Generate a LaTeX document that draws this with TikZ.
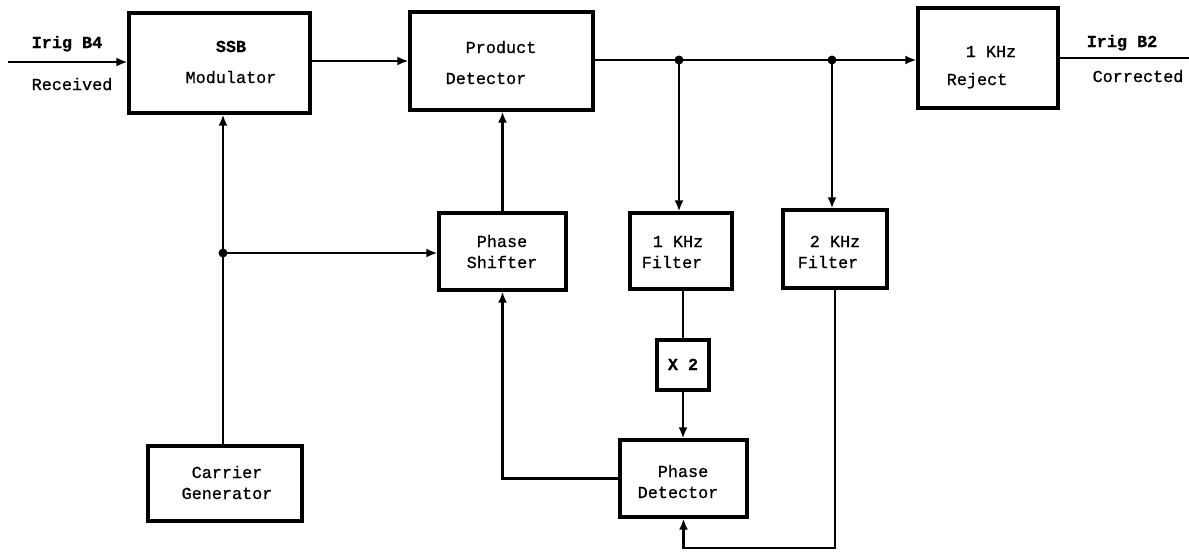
\documentclass[tikz,border=0pt]{standalone}
\usepackage{fontspec}
\setmonofont{Liberation Mono}
\newfontfamily\twr[FakeBold=0.8]{Liberation Mono}
\newfontfamily\twb[FakeBold=0.6]{Liberation Mono Bold}
\usetikzlibrary{arrows.meta}
\tikzset{
  box/.style={draw, line width=3.2pt, inner sep=0pt, fill=none},
  conn/.style={line width=2.8pt},
  arr/.style={conn, -{Latex[length=11pt,width=9pt]}},
  txt/.style={anchor=base, inner sep=0pt, font=\twr\fontsize{16.8}{20}\selectfont},
  btxt/.style={txt, font=\twb\fontsize{16.8}{20}\selectfont},
  dot/.style={circle, fill, inner sep=0pt, minimum size=9pt}
}
\begin{document}
\begin{tikzpicture}[x=1pt,y=-1pt]
\useasboundingbox (0,0) rectangle (1189,552);
% boxes
\node[box, minimum width=181pt, minimum height=100pt] (ssb) at (219.5,63) {};
\node[box, minimum width=183pt, minimum height=98pt] (prod) at (501.5,61) {};
\node[box, minimum width=140pt, minimum height=100pt] (rej) at (988,58) {};
\node[box, minimum width=127pt, minimum height=77pt] (shift) at (502.5,251.5) {};
\node[box, minimum width=102pt, minimum height=76pt] (f1) at (681,251) {};
\node[box, minimum width=104pt, minimum height=78pt] (f2) at (835,249) {};
\node[box, minimum width=52pt, minimum height=50pt] (x2) at (683,365) {};
\node[box, minimum width=127pt, minimum height=77pt] (pd) at (683.5,478.5) {};
\node[box, minimum width=154pt, minimum height=75pt] (car) at (225,483.5) {};
% coordinates
\coordinate (in) at (8,62);
\coordinate (out) at (1189,58);
\coordinate (j1) at (679,60);
\coordinate (j2) at (832,60);
\coordinate (j3) at (223,253);
\coordinate (fb) at (835,548);
% connectors
\draw[arr] (in) -- (in -| ssb.west);
\draw[arr] (ssb.east |- 0,61) -- (prod.west |- 0,61);
\draw[arr] (prod.east |- j1) -- (rej.west |- j1);
\draw[conn] (rej.east |- out) -- (out);
\draw[arr] (j1) -- (j1 |- f1.north);
\draw[arr] (j2) -- (j2 |- f2.north);
\draw[arr] (j3 |- car.north) -- (j3 |- ssb.south);
\draw[arr] (j3) -- (j3 -| shift.west);
\draw[arr] (shift.north) -- (shift.north |- prod.south);
\draw[conn] (x2.north |- f1.south) -- (x2.north);
\draw[arr] (x2.south) -- (x2.south |- pd.north);
\draw[arr] (pd.west) -| (shift.south);
\draw[arr] (f2.south -| fb) -- (fb) -| (pd.south);
\node[dot] (d1) at (j1) {};
\node[dot] (d2) at (j2) {};
\node[dot] (d3) at (j3) {};
% labels
\node[btxt] (t1) at (67,48) {Irig B4};
\node[txt] (t2) at (72,90) {Received};
\node[btxt] (t3) at (231,52) {SSB};
\node[txt] (t4) at (231,83) {Modulator};
\node[txt] (t5) at (501,53) {Product};
\node[txt] (t6) at (486,84) {Detector};
\node[txt] (t7) at (991,57) {1 KHz};
\node[txt] (t8) at (977,85) {Reject};
\node[btxt] (t9) at (1122,47) {Irig B2};
\node[txt] (t10) at (1138,82) {Corrected};
\node[txt] (t11) at (502,247) {Phase};
\node[txt] (t12) at (502,268) {Shifter};
\node[txt] (t13) at (678,247) {1 KHz};
\node[txt] (t14) at (672,268) {Filter};
\node[txt] (t15) at (835,247) {2 KHz};
\node[txt] (t16) at (828,268) {Filter};
\node[btxt] (t17) at (683,370) {X 2};
\node[txt] (t18) at (683,477) {Phase};
\node[txt] (t19) at (678,498) {Detector};
\node[txt] (t20) at (227,478) {Carrier};
\node[txt] (t21) at (227,499) {Generator};
\end{tikzpicture}
\end{document}
